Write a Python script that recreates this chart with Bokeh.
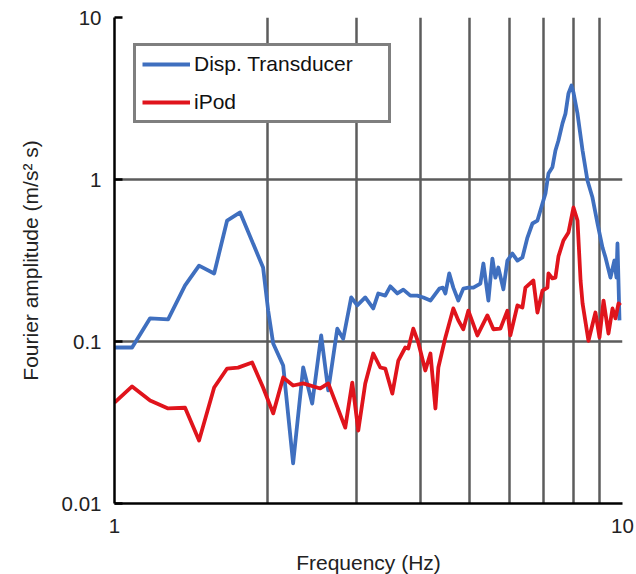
from bokeh.plotting import figure
from bokeh.models import Range1d, FixedTicker, Legend, LegendItem
from bokeh.embed import file_html
from bokeh.resources import INLINE

# Fourier amplitude spectra: displacement transducer vs. iPod accelerometer
disp_freq = [1.00, 1.083, 1.175, 1.275, 1.377, 1.467, 1.571, 1.666, 1.767, 1.961,
             2.007, 2.053, 2.148, 2.247, 2.352, 2.450, 2.552, 2.635, 2.745, 2.820,
             2.924, 3.005, 3.116, 3.231, 3.306, 3.412, 3.491, 3.604, 3.703, 3.823,
             3.945, 4.055, 4.187, 4.36, 4.43, 4.481, 4.56, 4.645, 4.751, 4.860,
             4.972, 5.087, 5.251, 5.323, 5.445, 5.545, 5.620, 5.697, 5.828, 5.935,
             6.071, 6.211, 6.353, 6.499, 6.648, 6.801, 6.957, 7.053, 7.149, 7.278,
             7.379, 7.480, 7.618, 7.722, 7.828, 7.935, 8.008, 8.155, 8.344, 8.531,
             8.728, 8.928, 9.134, 9.259, 9.47, 9.64, 9.73, 9.775, 9.865]
disp_amp = [0.0918, 0.0918, 0.139, 0.137, 0.222, 0.294, 0.263, 0.558, 0.626, 0.286,
            0.155, 0.0972, 0.0711, 0.0177, 0.0691, 0.0414, 0.109, 0.0499, 0.120, 0.104,
            0.187, 0.167, 0.187, 0.160, 0.198, 0.192, 0.219, 0.198, 0.209, 0.192,
            0.192, 0.187, 0.179, 0.212, 0.215, 0.198, 0.263, 0.215, 0.179, 0.212,
            0.215, 0.215, 0.228, 0.303, 0.179, 0.325, 0.248, 0.286, 0.210, 0.316,
            0.349, 0.316, 0.330, 0.438, 0.535, 0.558, 0.711, 0.820, 1.09, 1.19,
            1.51, 1.74, 2.22, 2.55, 3.40, 3.80, 3.44, 2.55, 1.51, 0.985,
            0.774, 0.535, 0.380, 0.330, 0.248, 0.316, 0.248, 0.403, 0.135]

ipod_freq = [1.00, 1.083, 1.175, 1.275, 1.377, 1.467, 1.571, 1.666, 1.751, 1.866,
             1.961, 2.053, 2.148, 2.247, 2.352, 2.541, 2.635, 2.846, 2.938, 3.019,
             3.116, 3.231, 3.336, 3.412, 3.523, 3.620, 3.736, 3.787, 3.874, 3.963,
             4.091, 4.187, 4.283, 4.340, 4.481, 4.645, 4.751, 4.860, 4.972, 5.180,
             5.420, 5.570, 5.750, 5.935, 6.015, 6.211, 6.353, 6.440, 6.677, 6.801,
             6.957, 7.116, 7.149, 7.278, 7.379, 7.480, 7.651, 7.828, 8.008, 8.155,
             8.269, 8.344, 8.570, 8.846, 9.010, 9.176, 9.384, 9.557, 9.688, 9.820,
             9.91]
ipod_amp = [0.0420, 0.0528, 0.0432, 0.0386, 0.0390, 0.0245, 0.0520, 0.0681, 0.0690, 0.0742,
            0.0520, 0.0360, 0.0600, 0.0535, 0.0551, 0.0513, 0.0551, 0.0294, 0.0558, 0.0282,
            0.0551, 0.0843, 0.0691, 0.0681, 0.0477, 0.0763, 0.0918, 0.0905, 0.120, 0.0986,
            0.0662, 0.0843, 0.0386, 0.0691, 0.106, 0.160, 0.135, 0.119, 0.155, 0.109,
            0.145, 0.119, 0.120, 0.155, 0.109, 0.167, 0.162, 0.215, 0.238, 0.151,
            0.206, 0.215, 0.263, 0.245, 0.248, 0.335, 0.420, 0.471, 0.672, 0.558,
            0.238, 0.172, 0.101, 0.151, 0.106, 0.179, 0.112, 0.160, 0.139, 0.172,
            0.167]

x_ticks = [1, 10]
x_grid = [2, 3, 4, 5, 6, 7, 8, 9, 10]
y_ticks = [0.01, 0.1, 1, 10]
y_grid = [0.1, 1, 10]
y_labels = {0.01: "0.01", 0.1: "0.1", 1: "1", 10: "10"}

FONT = "Liberation Sans"
BLUE = "#3F6FBF"
RED = "#E0141C"
GRID = "#5C5C5C"
TEXT = "#222222"

p = figure(width=636, height=574, frame_width=508, frame_height=486,
           x_axis_type="log", y_axis_type="log",
           x_range=Range1d(1, 10), y_range=Range1d(0.01, 10),
           output_backend="svg", toolbar_location=None,
           min_border_left=114, min_border_top=17,
           min_border_right=14, min_border_bottom=71,
           background_fill_color="white", border_fill_color="white")
p.outline_line_color = None

r_disp = p.line(disp_freq, disp_amp, line_color=BLUE, line_width=3.8, line_join="round")
r_ipod = p.line(ipod_freq, ipod_amp, line_color=RED, line_width=3.8, line_join="round")

# grid lines
p.xgrid.ticker = FixedTicker(ticks=x_grid)
p.ygrid.ticker = FixedTicker(ticks=y_grid)
for g in (p.xgrid, p.ygrid):
    g.grid_line_color = GRID
    g.grid_line_width = 2.5
    g.minor_grid_line_color = None

# axes
p.xaxis.ticker = FixedTicker(ticks=x_ticks, minor_ticks=[])
p.yaxis.ticker = FixedTicker(ticks=y_ticks, minor_ticks=[])
p.yaxis.major_label_overrides = y_labels
p.xaxis.major_label_overrides = {1: "1", 10: "10"}
for ax in (p.xaxis, p.yaxis):
    ax.axis_line_color = "black"
    ax.axis_line_width = 2.5
    ax.minor_tick_line_color = None
    ax.major_label_text_font = FONT
    ax.major_label_text_font_size = "20.5px"
    ax.major_label_text_color = TEXT
    ax.axis_label_text_font = FONT
    ax.axis_label_text_font_size = "21px"
    ax.axis_label_text_font_style = "normal"
    ax.axis_label_text_color = TEXT
p.yaxis.major_tick_in = 8
p.yaxis.major_tick_out = 0
p.yaxis.major_tick_line_color = "black"
p.yaxis.major_tick_line_width = 2.5
p.xaxis.major_tick_line_color = None
p.yaxis.major_label_standoff = 13
p.xaxis.major_label_standoff = 9
p.yaxis.axis_label = "Fourier amplitude (m/s² s)"
p.xaxis.axis_label = "Frequency (Hz)"
p.yaxis.axis_label_standoff = 17
p.xaxis.axis_label_standoff = 15

legend = Legend(items=[LegendItem(label="Disp. Transducer", renderers=[r_disp]),
                       LegendItem(label="iPod", renderers=[r_ipod])],
                location=(19, 380))
legend.label_text_font = FONT
legend.label_text_font_size = "21px"
legend.label_text_color = "#111111"
legend.glyph_width = 48
legend.glyph_height = 20
legend.label_height = 22
legend.label_width = 188
legend.label_standoff = 4
legend.spacing = 14
legend.padding = 6
legend.margin = 0
legend.border_line_color = "black"
legend.border_line_width = 3
legend.background_fill_color = "white"
legend.background_fill_alpha = 1.0
p.add_layout(legend)

open("out.html", "w").write(file_html(p, INLINE))
